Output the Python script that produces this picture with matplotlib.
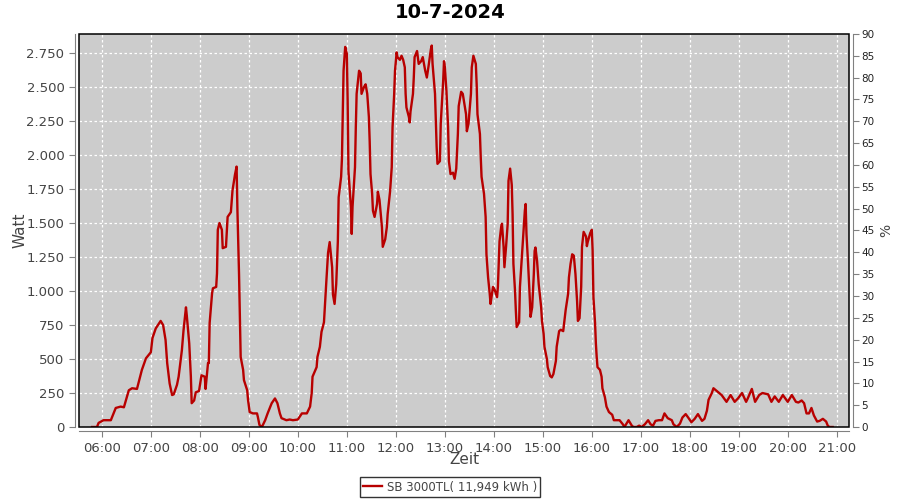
import matplotlib
matplotlib.use("Agg")
import matplotlib.pyplot as plt
import matplotlib.dates as mdates
from matplotlib.patches import Rectangle
from matplotlib.ticker import FuncFormatter, MultipleLocator
import pandas as pd

# readings of the day (clock time, watt)
times = [
    "05:48", "05:54", "05:56", "06:02", "06:11", "06:17", "06:23", "06:27", "06:33", "06:37",
    "06:43", "06:49", "06:54", "07:00", "07:02", "07:06", "07:12", "07:15", "07:18", "07:20",
    "07:23", "07:26", "07:28", "07:32", "07:34", "07:38", "07:40", "07:43", "07:44", "07:47",
    "07:49", "07:50", "07:53", "07:55", "07:59", "08:02", "08:06", "08:07", "08:10", "08:11",
    "08:12", "08:15", "08:16", "08:20", "08:21", "08:22", "08:24", "08:27", "08:28", "08:32",
    "08:33", "08:34", "08:38", "08:40", "08:43", "08:45", "08:46", "08:47", "08:48", "08:49",
    "08:50", "08:53", "08:54", "08:58", "08:59", "09:01", "09:05", "09:10", "09:11", "09:13",
    "09:16", "09:20", "09:23", "09:28", "09:32", "09:35", "09:38", "09:40", "09:46", "09:50",
    "09:54", "10:00", "10:05", "10:11", "10:15", "10:17", "10:18", "10:23", "10:24", "10:27",
    "10:29", "10:32", "10:34", "10:35", "10:37", "10:39", "10:42", "10:43", "10:45", "10:47",
    "10:48", "10:49", "10:50", "10:53", "10:54", "10:55", "10:56", "10:58", "11:00", "11:01",
    "11:02", "11:05", "11:06", "11:07", "11:10", "11:11", "11:12", "11:15", "11:17", "11:18",
    "11:21", "11:23", "11:25", "11:27", "11:28", "11:29", "11:31", "11:32", "11:34", "11:37",
    "11:38", "11:40", "11:43", "11:44", "11:47", "11:49", "11:50", "11:53", "11:55", "11:56",
    "11:58", "11:59", "12:01", "12:02", "12:05", "12:07", "12:09", "12:11", "12:12", "12:13",
    "12:16", "12:17", "12:18", "12:21", "12:22", "12:23", "12:26", "12:28", "12:31", "12:33",
    "12:36", "12:38", "12:40", "12:43", "12:44", "12:45", "12:48", "12:49", "12:50", "12:51",
    "12:54", "12:55", "12:58", "12:59", "13:00", "13:02", "13:04", "13:05", "13:07", "13:10",
    "13:12", "13:14", "13:16", "13:17", "13:20", "13:22", "13:26", "13:27", "13:29", "13:32",
    "13:33", "13:35", "13:38", "13:39", "13:40", "13:43", "13:44", "13:45", "13:48", "13:50",
    "13:51", "13:53", "13:55", "13:56", "13:59", "14:01", "14:04", "14:05", "14:07", "14:09",
    "14:10", "14:12", "14:13", "14:15", "14:17", "14:18", "14:20", "14:22", "14:23", "14:24",
    "14:26", "14:27", "14:28", "14:31", "14:32", "14:34", "14:36", "14:38", "14:39", "14:40",
    "14:42", "14:44", "14:45", "14:47", "14:49", "14:50", "14:51", "14:53", "14:55", "14:58",
    "14:59", "15:01", "15:02", "15:05", "15:06", "15:09", "15:11", "15:13", "15:16", "15:17",
    "15:20", "15:22", "15:25", "15:26", "15:28", "15:31", "15:32", "15:34", "15:36", "15:38",
    "15:40", "15:42", "15:43", "15:45", "15:47", "15:48", "15:50", "15:53", "15:54", "15:55",
    "15:58", "16:00", "16:01", "16:02", "16:04", "16:05", "16:06", "16:07", "16:10", "16:12",
    "16:13", "16:16", "16:18", "16:21", "16:25", "16:27", "16:31", "16:34", "16:38", "16:40",
    "16:43", "16:45", "16:49", "16:51", "16:55", "16:58", "17:01", "17:05", "17:09", "17:12",
    "17:15", "17:18", "17:22", "17:26", "17:29", "17:33", "17:38", "17:40", "17:44", "17:48",
    "17:51", "17:55", "17:58", "18:02", "18:06", "18:10", "18:12", "18:15", "18:18", "18:21",
    "18:23", "18:27", "18:29", "18:34", "18:39", "18:42", "18:45", "18:50", "18:55", "18:59",
    "19:04", "19:09", "19:11", "19:16", "19:20", "19:25", "19:29", "19:36", "19:40", "19:44",
    "19:49", "19:54", "20:00", "20:05", "20:10", "20:13", "20:17", "20:20", "20:23", "20:26",
    "20:29", "20:32", "20:36", "20:39", "20:43", "20:47", "20:49", "20:51", "20:55",
]
watt = [
    0, 0, 30, 50, 50, 140, 150, 145, 270, 285,
    280, 420, 505, 550, 655, 725, 780, 750, 640, 470,
    320, 235, 240, 310, 370, 565, 710, 880, 820, 615,
    370, 175, 195, 255, 265, 380, 370, 280, 470, 470,
    765, 985, 1020, 1030, 1130, 1450, 1500, 1450, 1315, 1325,
    1435, 1545, 1580, 1740, 1855, 1915, 1600, 1375, 1120, 810,
    515, 420, 345, 270, 200, 110, 100, 100, 75, 15,
    0, 50, 100, 175, 210, 175, 100, 65, 50, 55,
    50, 55, 100, 100, 150, 250, 370, 440, 515, 590,
    700, 770, 985, 1080, 1280, 1360, 1175, 975, 905, 1050,
    1200, 1365, 1690, 1840, 1970, 2280, 2620, 2795, 2745, 2400,
    1880, 1620, 1420, 1620, 1910, 2205, 2450, 2620, 2600, 2450,
    2500, 2520, 2450, 2280, 2100, 1860, 1715, 1590, 1545, 1640,
    1730, 1670, 1470, 1325, 1380, 1470, 1565, 1735, 1910, 2205,
    2450, 2620, 2755, 2720, 2700, 2730, 2700, 2645, 2450, 2350,
    2280, 2240, 2320, 2450, 2570, 2720, 2765, 2670, 2690, 2720,
    2620, 2570, 2650, 2780, 2805, 2670, 2450, 2250, 2060, 1935,
    1955, 2230, 2545, 2690, 2650, 2470, 2205, 1955, 1860, 1870,
    1825, 1900, 2155, 2360, 2465, 2450, 2300, 2175, 2230, 2450,
    2645, 2730, 2670, 2520, 2300, 2155, 1985, 1840, 1715, 1545,
    1270, 1100, 980, 905, 1030, 1010, 955, 1030, 1365, 1470,
    1495, 1325, 1175, 1325, 1495, 1810, 1900, 1780, 1565, 1200,
    1000, 855, 735, 770, 1030, 1220, 1400, 1590, 1640, 1420,
    1200, 955, 810, 880, 1125, 1295, 1320, 1220, 1050, 880,
    780, 685, 590, 500, 440, 375, 365, 390, 485, 590,
    705, 715, 705, 755, 860, 980, 1100, 1200, 1270, 1260,
    1125, 925, 780, 800, 1030, 1325, 1435, 1400, 1330, 1360,
    1425, 1450, 1300, 955, 765, 615, 515, 440, 420, 370,
    285, 220, 150, 110, 90, 50, 50, 50, 20, 0,
    30, 50, 10, 0, 0, 10, 0, 20, 50, 20,
    10, 45, 50, 50, 100, 65, 50, 20, 0, 25,
    70, 95, 70, 35, 60, 95, 75, 45, 60, 120,
    200, 250, 285, 260, 235, 210, 185, 235, 185, 210,
    250, 185, 210, 280, 185, 235, 250, 240, 185, 225,
    185, 235, 185, 235, 185, 180, 195, 175, 100, 100,
    140, 85, 40, 45, 60, 40, 10, 0, 0,
]
day = "2024-07-10"
title = "10-7-2024"
series_label = "SB 3000TL( 11,949 kWh )"

t = pd.to_datetime([day + " " + s for s in times])

fig = plt.figure(figsize=(9, 5), dpi=100)
ax = fig.add_axes([79 / 900, 1 - 427 / 500, 770 / 900, 393 / 500])
ax.set_facecolor("#cccccc")

line, = ax.plot(t, watt, color="#b80000", lw=1.7, label=series_label)

ax.set_xlim(pd.Timestamp(day + " 05:32"), pd.Timestamp(day + " 21:15"))
ax.set_ylim(0, 2890)
ax.xaxis.set_major_locator(mdates.HourLocator(byhour=range(6, 22)))
ax.xaxis.set_major_formatter(mdates.DateFormatter("%H:%M"))
ax.yaxis.set_major_locator(MultipleLocator(250))
ax.yaxis.set_major_formatter(FuncFormatter(lambda v, p: f"{v:,.0f}".replace(",", ".")))
ax.grid(True, color="white", ls=(0, (2, 2)), lw=0.9)

grey = "#808080"
for side in ("left", "bottom"):
    ax.spines[side].set_position(("outward", 3))
    ax.spines[side].set_color(grey)
for side in ("top", "right"):
    ax.spines[side].set_visible(False)
ax.tick_params(colors=grey, labelcolor="#444444", labelsize=9.5, length=4)
ax.add_patch(Rectangle((0, 0), 1, 1, transform=ax.transAxes, fill=False,
                       ec="black", lw=1.1, clip_on=False, zorder=5))

ax2 = ax.twinx()
ax2.set_ylim(0, 90)
ax2.yaxis.set_major_locator(MultipleLocator(5))
for side in ("left", "bottom", "top"):
    ax2.spines[side].set_visible(False)
ax2.spines["right"].set_position(("outward", 3))
ax2.spines["right"].set_color(grey)
ax2.tick_params(colors=grey, labelcolor="#222222", labelsize=7.5, length=4, pad=2)
ax2.set_ylabel("%", fontsize=10, color="#444444", rotation=90, va="center")
ax2.yaxis.set_label_coords((886 - 79) / 770, 0.5)

ax.set_xlabel("Zeit", fontsize=11, color="#444444", va="center")
ax.xaxis.set_label_coords(0.5, -(460 - 427) / 393)
ax.set_ylabel("Watt", fontsize=11, color="#444444", va="center")
ax.yaxis.set_label_coords(-(79 - 20) / 770, 0.5)
fig.suptitle(title, fontsize=14, fontweight="bold", y=0.995)

leg = fig.legend(handles=[line], loc="lower center", bbox_to_anchor=(0.5, -0.006),
                 fontsize=8.5, frameon=True, fancybox=False, edgecolor="black",
                 handlelength=1.6, borderpad=0.3, handletextpad=0.4)
leg.get_frame().set_linewidth(1.0)
for txt in leg.get_texts():
    txt.set_color("#444444")

fig.savefig("out.png", dpi=100)
